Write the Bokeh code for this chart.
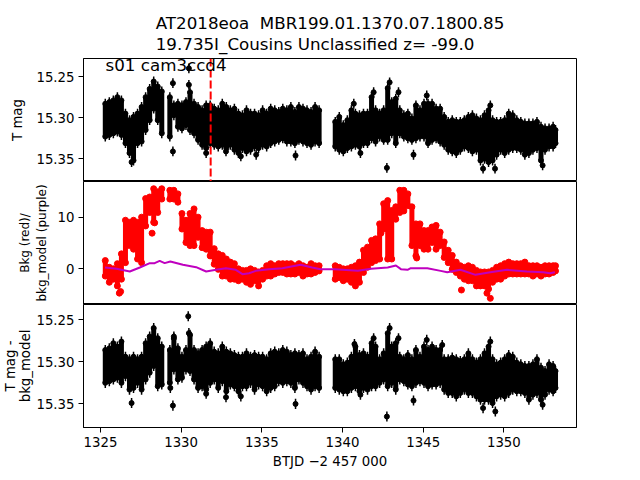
import numpy as np
from bokeh.plotting import figure
from bokeh.layouts import column
from bokeh.models import Range1d, FixedTicker, PrintfTickFormatter, Label, Span
from bokeh.embed import file_html
from bokeh.resources import INLINE

# ---------------- data ----------------
# time bins (BTJD - 2457000)
T = [1325.30, 1325.55, 1325.80, 1326.05, 1326.30, 1326.55, 1326.80, 1327.05, 1327.30, 1327.55,
     1327.80, 1328.05, 1328.30, 1328.55, 1328.80,
     1329.30, 1329.55, 1329.80, 1330.05, 1330.30, 1330.55, 1330.80, 1331.05, 1331.30, 1331.55,
     1331.80, 1332.05, 1332.30, 1332.55, 1332.80, 1333.05, 1333.30, 1333.55, 1333.80, 1334.05,
     1334.30, 1334.55, 1334.80, 1335.05, 1335.30, 1335.55, 1335.80, 1336.05, 1336.30, 1336.55,
     1336.80, 1337.05, 1337.30, 1337.55, 1337.80, 1338.05, 1338.30, 1338.55,
     1339.55, 1339.80, 1340.05, 1340.30, 1340.55, 1340.80, 1341.05, 1341.30, 1341.55, 1341.80,
     1342.05, 1342.30, 1342.55, 1342.80, 1343.05, 1343.30, 1343.55, 1343.80, 1344.05, 1344.30,
     1344.55, 1344.80, 1345.05, 1345.30, 1345.55, 1345.80, 1346.05, 1346.30, 1346.55, 1346.80,
     1347.05, 1347.30, 1347.55, 1347.80, 1348.05, 1348.30, 1348.55, 1348.80, 1349.05, 1349.30,
     1349.55, 1349.80, 1350.05, 1350.30, 1350.55, 1350.80, 1351.05, 1351.30, 1351.55, 1351.80,
     1352.05, 1352.30, 1352.55, 1352.80, 1353.05, 1353.20]

# top panel: T mag, upper / lower edge of the scatter in each bin
tmag_hi = [15.283, 15.281, 15.279, 15.275, 15.279, 15.295, 15.303, 15.299, 15.295, 15.287,
           15.275, 15.265, 15.256, 15.262, 15.268,
           15.275, 15.285, 15.283, 15.285, 15.281, 15.269, 15.283, 15.287, 15.291, 15.285,
           15.285, 15.289, 15.291, 15.283, 15.287, 15.291, 15.289, 15.295, 15.297, 15.291,
           15.295, 15.295, 15.297, 15.291, 15.295, 15.289, 15.291, 15.293, 15.289, 15.291,
           15.287, 15.293, 15.287, 15.289, 15.291, 15.293, 15.287, 15.291,
           15.305, 15.299, 15.309, 15.303, 15.291, 15.295, 15.297, 15.295, 15.295, 15.275,
           15.291, 15.295, 15.291, 15.264, 15.281, 15.277, 15.291, 15.297, 15.295, 15.301,
           15.285, 15.291, 15.283, 15.283, 15.283, 15.289, 15.289, 15.299, 15.305, 15.303,
           15.305, 15.305, 15.303, 15.299, 15.297, 15.301, 15.303, 15.297, 15.291, 15.303,
           15.305, 15.305, 15.303, 15.295, 15.297, 15.303, 15.305, 15.307, 15.307, 15.307,
           15.305, 15.311, 15.313, 15.313, 15.311, 15.315]
tmag_lo = [15.323, 15.321, 15.319, 15.317, 15.321, 15.331, 15.343, 15.352, 15.331, 15.329,
           15.315, 15.303, 15.289, 15.303, 15.319,
           15.323, 15.297, 15.311, 15.313, 15.309, 15.315, 15.319, 15.327, 15.333, 15.337,
           15.331, 15.333, 15.335, 15.333, 15.337, 15.333, 15.339, 15.343, 15.337, 15.341,
           15.339, 15.335, 15.337, 15.333, 15.335, 15.331, 15.329, 15.327, 15.325, 15.329,
           15.329, 15.331, 15.327, 15.329, 15.331, 15.333, 15.329, 15.331,
           15.335, 15.339, 15.341, 15.337, 15.335, 15.333, 15.335, 15.331, 15.331, 15.325,
           15.329, 15.323, 15.327, 15.327, 15.319, 15.331, 15.319, 15.323, 15.325, 15.327,
           15.325, 15.323, 15.323, 15.331, 15.327, 15.325, 15.329, 15.333, 15.339, 15.341,
           15.343, 15.339, 15.335, 15.337, 15.341, 15.339, 15.352, 15.350, 15.354, 15.352,
           15.345, 15.339, 15.343, 15.339, 15.337, 15.337, 15.339, 15.345, 15.343, 15.339,
           15.337, 15.352, 15.339, 15.335, 15.335, 15.331]
tmag_out_t = [1330.48, 1330.48, 1329.49, 1329.49, 1326.93, 1337.09, 1331.55, 1332.78, 1333.70,
              1334.65, 1342.92, 1342.75, 1341.93, 1343.47, 1345.22, 1349.16, 1349.45, 1348.71,
              1352.40, 1344.40, 1341.11, 1340.70]
tmag_out_v = [15.240, 15.260, 15.258, 15.341, 15.354, 15.346, 15.343, 15.341, 15.347,
              15.345, 15.257, 15.361, 15.269, 15.269, 15.273, 15.285, 15.362, 15.362,
              15.358, 15.345, 15.343, 15.283]

# middle panel: background (red) upper / lower edge per bin
bkg_hi = [1.6, 0.3, 0.0, 1.0, 2.9, 9.4, 9.0, 9.4, 9.0, 10.0, 13.6, 13.9, 15.5, 14.9, 15.5,
          15.2, 15.2, 14.5, 10.7, 9.4, 10.7, 11.6, 10.0, 7.4, 7.1, 7.1, 3.9, 2.9, 2.6, 1.9,
          1.3, 1.0, 0.0, -0.3, -0.3, 0.0, -0.3, -0.6, -0.3, 0.6, 1.0, 0.6, 1.0, 1.0, 1.0,
          1.0, 0.6, 1.0, 0.6, 0.3, 1.0, 0.6, 0.6,
          0.6, 0.3, 0.0, 0.0, 0.3, 0.6, 1.3, 3.6, 4.2, 5.5, 5.8, 8.7, 12.6, 13.2, 11.3,
          12.0, 15.2, 15.2, 14.5, 12.0, 8.7, 8.7, 7.4, 7.4, 8.1, 8.4, 7.1, 5.2, 3.6, 2.6,
          1.3, 0.6, 0.3, 0.6, 0.3, -0.3, -0.6, -0.6, -0.6, -0.3, 0.3, 0.6, 1.0, 1.3, 1.0,
          1.0, 1.0, 1.3, 0.6, 0.6, 0.6, 0.3, 0.6, 0.6, 0.6, 0.6]
bkg_lo = [-1.4, -2.6, -2.0, -3.3, -2.0, 1.2, 4.5, 3.8, 1.9, 1.2, 8.3, 10.9, 9.0, 10.9, 13.5,
          13.5, 13.5, 12.9, 7.7, 5.1, 4.5, 4.5, 6.1, 4.1, 3.8, 2.5, 0.9, -0.1, -1.4, -1.4,
          -2.0, -2.0, -2.3, -2.0, -2.6, -3.0, -2.3, -3.3, -2.0, -1.4, -1.4, -1.0, -0.7, -0.7,
          -1.0, -1.0, -1.0, -0.7, -1.4, -1.0, -1.0, -0.7, -0.4,
          -2.0, -1.7, -2.3, -2.0, -2.6, -3.3, -2.6, -0.7, 0.3, 1.2, 1.6, 1.9, 7.7, 1.9, 1.9,
          9.6, 10.9, 11.2, 12.2, 4.5, 2.5, 4.5, 3.8, 3.8, 5.1, 3.8, 4.5, 2.2, 1.2, -0.1,
          -0.7, -1.4, -2.0, -2.3, -2.3, -3.3, -3.3, -3.3, -3.9, -2.6, -2.0, -2.0, -1.4, -1.0,
          -1.0, -1.0, -1.0, -1.0, -1.0, -1.4, -1.0, -1.4, -1.0, -1.0, -0.7, -0.4]
bkg_out_t = [1326.17, 1326.25, 1328.20, 1328.36, 1342.38, 1342.95, 1344.60, 1347.37, 1348.95, 1349.16]
bkg_out_v = [-4.7, -4.4, 6.9, 8.9, 6.9, 2.1, 2.1, -4.1, -4.7, -5.7]

# middle panel: background model (purple)
model_t = [1325.28, 1326.00, 1326.82, 1327.44, 1328.06, 1328.36, 1328.67, 1328.98, 1329.33,
           1330.11, 1330.93, 1331.55, 1332.16, 1332.78, 1333.39, 1333.80, 1334.21, 1334.63,
           1335.45, 1336.27, 1337.40, 1338.12, 1338.63,
           1339.51, 1340.95, 1341.77, 1342.80, 1343.31, 1343.62, 1344.03, 1344.23, 1345.26,
           1346.08, 1346.49, 1347.31, 1348.24, 1349.16, 1350.19, 1351.42, 1352.44, 1352.86,
           1353.16]
model_v = [0.26, 0.0, -0.52, 0.26, 1.10, 1.10, 1.55, 1.10, 1.42, 0.78, 0.32, -0.52, -0.19,
           0.13, -0.19, -1.03, -0.84, -0.39, -0.06, 0.13, 0.78, 0.26, -0.06,
           -0.06, -0.39, 0.0, 0.26, 0.65, -0.06, -0.19, 0.13, 0.13, -0.39, -0.65, -0.19,
           -1.16, -0.65, -0.19, -0.52, -0.65, -0.84, -0.65]

# bottom panel: T mag - bkg_model, upper / lower edge per bin
corr_hi = [15.286, 15.284, 15.278, 15.282, 15.276, 15.294, 15.297, 15.294, 15.297, 15.294,
           15.278, 15.270, 15.260, 15.272, 15.282,
           15.286, 15.272, 15.284, 15.294, 15.286, 15.268, 15.286, 15.290, 15.286, 15.282,
           15.278, 15.288, 15.290, 15.282, 15.288, 15.290, 15.292, 15.294, 15.294, 15.290,
           15.294, 15.292, 15.294, 15.294, 15.297, 15.290, 15.288, 15.290, 15.286, 15.288,
           15.292, 15.290, 15.292, 15.290, 15.297, 15.294, 15.288, 15.294,
           15.297, 15.297, 15.303, 15.301, 15.294, 15.282, 15.292, 15.290, 15.294, 15.278,
           15.282, 15.297, 15.290, 15.266, 15.282, 15.278, 15.294, 15.297, 15.292, 15.297,
           15.286, 15.294, 15.282, 15.286, 15.282, 15.286, 15.286, 15.297, 15.297, 15.295,
           15.297, 15.299, 15.297, 15.290, 15.297, 15.301, 15.297, 15.290, 15.282, 15.297,
           15.303, 15.301, 15.297, 15.292, 15.294, 15.301, 15.303, 15.305, 15.305, 15.303,
           15.297, 15.307, 15.311, 15.303, 15.305, 15.311]
corr_lo = [15.325, 15.323, 15.321, 15.319, 15.325, 15.317, 15.333, 15.331, 15.325, 15.333,
           15.321, 15.313, 15.305, 15.329, 15.327,
           15.325, 15.309, 15.321, 15.319, 15.309, 15.311, 15.321, 15.331, 15.329, 15.333,
           15.325, 15.321, 15.331, 15.323, 15.335, 15.327, 15.329, 15.335, 15.329, 15.329,
           15.325, 15.333, 15.327, 15.329, 15.335, 15.331, 15.329, 15.323, 15.325, 15.323,
           15.325, 15.331, 15.321, 15.325, 15.329, 15.333, 15.329, 15.331,
           15.331, 15.333, 15.335, 15.335, 15.331, 15.329, 15.335, 15.331, 15.333, 15.329,
           15.329, 15.325, 15.321, 15.329, 15.325, 15.333, 15.321, 15.323, 15.327, 15.329,
           15.325, 15.323, 15.325, 15.329, 15.327, 15.327, 15.325, 15.333, 15.337, 15.337,
           15.341, 15.337, 15.333, 15.337, 15.337, 15.341, 15.345, 15.345, 15.345, 15.349,
           15.341, 15.339, 15.341, 15.337, 15.333, 15.335, 15.335, 15.337, 15.345, 15.339,
           15.337, 15.345, 15.339, 15.333, 15.335, 15.331]
corr_out_t = [1330.44, 1330.48, 1329.55, 1329.49, 1329.33, 1326.93, 1337.09, 1331.55, 1332.78,
              1333.70, 1342.92, 1342.75, 1341.93, 1343.47, 1345.22, 1349.16, 1349.47, 1348.71,
              1352.40, 1344.40, 1341.11, 1340.74, 1346.18]
corr_out_v = [15.246, 15.266, 15.270, 15.352, 15.331, 15.349, 15.350, 15.338, 15.342,
              15.341, 15.260, 15.365, 15.272, 15.272, 15.274, 15.276, 15.359, 15.355,
              15.351, 15.346, 15.339, 15.279, 15.280]

mag_err = 0.006
event_time = 1331.83

x_ticks = [1325, 1330, 1335, 1340, 1345, 1350]
mag_ticks = [15.25, 15.30, 15.35]
bkg_ticks = [0, 10]

title_text = "AT2018eoa\u00a0 MBR199.01.1370.07.1800.85\n19.735I_Cousins Unclassified z= -99.0"
panel_text = "s01 cam3ccd4"
xlabel = "BTJD \u22122 457 000"
ylabel_top = "T mag"
ylabel_mid = "Bkg (red)/\nbkg_model (purple)"
ylabel_bot = "T mag -\nbkg_model"

# ---------------- figure ----------------
FONT = "DejaVu Sans"
x_range = Range1d(1323.95, 1354.5)


def make_fig(height, y_range, top, bottom, show_x):
    p = figure(width=640, height=height, x_range=x_range, y_range=y_range,
               output_backend="svg", toolbar_location=None,
               min_border_left=80, min_border_right=64,
               min_border_top=top, min_border_bottom=bottom,
               x_axis_location="below" if show_x else None)
    p.grid.visible = False
    p.outline_line_color = "black"
    p.outline_line_width = 1
    p.background_fill_color = "white"
    p.border_fill_color = "white"
    axes = [p.yaxis[0]] + ([p.xaxis[0]] if show_x else [])
    for ax in axes:
        ax.major_label_text_font = FONT
        ax.major_label_text_font_size = "13.3px"
        ax.major_label_text_color = "black"
        ax.major_tick_out = 5
        ax.major_tick_in = 0
        ax.minor_tick_out = 0
        ax.minor_tick_in = 0
        ax.major_label_standoff = 4
        ax.axis_line_color = "black"
        ax.major_tick_line_color = "black"
        ax.axis_label_text_font = FONT
        ax.axis_label_text_font_size = "13.3px"
        ax.axis_label_text_font_style = "normal"
        ax.axis_label_text_color = "black"
    return p


def draw_lc(p, t, hi, lo, ot, ov):
    t = np.array(t)
    hi = np.array(hi)
    lo = np.array(lo)
    p.segment(t, hi, t, lo, line_color="black", line_width=5)
    for y in (hi, lo):
        p.segment(t, y - mag_err, t, y + mag_err, line_color="black", line_width=1.5)
        p.scatter(t, y, size=5, color="black")
    ot = np.array(ot)
    ov = np.array(ov)
    p.segment(ot, ov - mag_err, ot, ov + mag_err, line_color="black", line_width=1.5)
    p.scatter(ot, ov, size=5, color="black")


# top panel
p1 = make_fig(181, Range1d(15.3776, 15.228), 58, 0, False)
draw_lc(p1, T, tmag_hi, tmag_lo, tmag_out_t, tmag_out_v)
p1.add_layout(Span(location=event_time, dimension="height", line_color="red",
                   line_dash="8 3", line_width=2))
p1.yaxis.ticker = FixedTicker(ticks=mag_ticks)
p1.yaxis.formatter = PrintfTickFormatter(format="%.2f")
p1.yaxis.axis_label = ylabel_top
p1.yaxis.axis_label_standoff = 8
p1.title.text = title_text
p1.title.align = "center"
p1.title.text_font = FONT
p1.title.text_font_size = "16.7px"
p1.title.text_font_style = "normal"
p1.title.text_color = "black"
p1.title.text_line_height = 1.05
p1.title.standoff = 9
p1.add_layout(Label(x=22, y=117, x_units="screen", y_units="screen", text=panel_text,
                    text_align="left", text_baseline="alphabetic",
                    text_font=FONT, text_font_size="16.7px", text_color="black"))

# middle panel
p2 = make_fig(123, Range1d(-6.9, 16.9), 0, 0, False)
tt = np.array(T)
p2.segment(tt, bkg_hi, tt, bkg_lo, line_color="red", line_width=5)
p2.scatter(T, bkg_hi, size=6, color="red")
p2.scatter(T, bkg_lo, size=6, color="red")
p2.scatter(bkg_out_t, bkg_out_v, size=6, color="red")
p2.line(model_t, model_v, line_color="#bf00bf", line_width=2)
p2.yaxis.ticker = FixedTicker(ticks=bkg_ticks)
p2.yaxis.formatter = PrintfTickFormatter(format="%d")
p2.yaxis.axis_label = ylabel_mid
p2.yaxis.axis_label_text_font_size = "12px"
p2.yaxis.axis_label_standoff = 6

# bottom panel
p3 = make_fig(176, Range1d(15.378, 15.232), 0, 53, True)
draw_lc(p3, T, corr_hi, corr_lo, corr_out_t, corr_out_v)
p3.yaxis.ticker = FixedTicker(ticks=mag_ticks)
p3.yaxis.formatter = PrintfTickFormatter(format="%.2f")
p3.yaxis.axis_label = ylabel_bot
p3.yaxis.axis_label_standoff = 0
p3.yaxis.axis_label_text_line_height = 1.0
p3.xaxis.ticker = FixedTicker(ticks=x_ticks)
p3.xaxis.formatter = PrintfTickFormatter(format="%d")
p3.xaxis.axis_label = xlabel
p3.xaxis.axis_label_standoff = 4

layout = column(p1, p2, p3, spacing=0)
open("out.html", "w").write(file_html(layout, INLINE, title="plot"))
